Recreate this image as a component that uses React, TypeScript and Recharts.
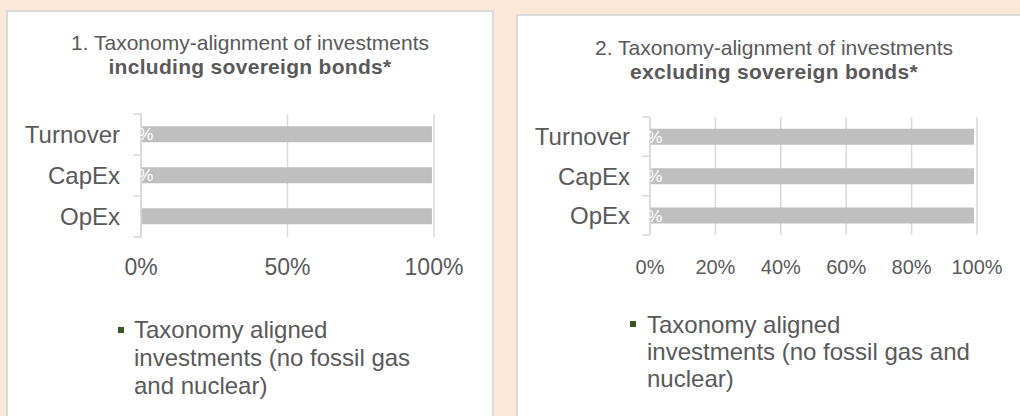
import React from 'react';
import {
  BarChart,
  Bar,
  XAxis,
  YAxis,
  CartesianGrid,
  LabelList
} from 'recharts';

// categories and values
const categories = ['Turnover', 'CapEx', 'OpEx'];

const inclAligned = [0, 0, 0];
const inclOther = [99.3, 99.3, 99.3];
const inclLabels = ['0%', '0%', ''];

const exclAligned = [0, 0, 0];
const exclOther = [99.1, 99.1, 99.1];
const exclLabels = ['0%', '0%', '0%'];

const inclTicks = [0, 50, 100];
const exclTicks = [0, 20, 40, 60, 80, 100];

const seriesName = 'Taxonomy aligned investments (no fossil gas and nuclear)';

const GREEN = '#375623';
const GREY_BAR = '#BFBFBF';
const GRID = '#D9D9D9';
const TEXT = '#595959';
const FONT = '"Liberation Sans", Arial, sans-serif';

const buildRows = (aligned: number[], other: number[], labels: string[]) =>
  categories.map((name, i) => ({
    name,
    aligned: aligned[i],
    other: other[i],
    label: labels[i]
  }));

// y axis label with Excel-like tick marks sitting between the categories
const CategoryTick = (props: any) => {
  const { x, y, payload, index, visibleTicksCount, band, gap } = props;
  const axisX = x + gap;
  const count = visibleTicksCount || categories.length;
  return (
    <g>
      <line x1={axisX - 8} x2={axisX} y1={y - band / 2} y2={y - band / 2} stroke={GRID} strokeWidth={1.5} />
      {index === count - 1 && (
        <line x1={axisX - 8} x2={axisX} y1={y + band / 2} y2={y + band / 2} stroke={GRID} strokeWidth={1.5} />
      )}
      <text x={x} y={y} dy="0.36em" textAnchor="end" fill={TEXT} fontSize={24} fontFamily={FONT}>
        {payload.value}
      </text>
    </g>
  );
};

// the aligned share is ~0 so its label sits centred on the start of the stack
const AlignedLabel = (props: any) => {
  const { x, y, height, value } = props;
  if (!value) return null;
  return (
    <text
      x={x}
      y={y + height / 2}
      dy="0.36em"
      textAnchor="middle"
      fill="#FFFFFF"
      fontSize={17}
      fontFamily={FONT}
    >
      {value}
    </text>
  );
};

interface PanelProps {
  left: number;
  top: number;
  width: number;
  number: string;
  boldLine: string;
  titleTop: number;
  titleWidth: number;
  rows: any[];
  ticks: number[];
  chartWidth: number;
  chartHeight: number;
  margin: { top: number; right: number; left: number; bottom: number };
  yWidth: number;
  plotHeight: number;
  tickFont: number;
  tickMargin: number;
  yGap: number;
  legend: { sqX: number; sqY: number; textX: number; textTop: number; width: number; lineHeight: number };
}

const Panel: React.FC<PanelProps> = (p) => {
  const band = p.plotHeight / categories.length;
  return (
    <div
      style={{
        position: 'absolute',
        left: p.left,
        top: p.top,
        width: p.width,
        height: 430,
        background: '#FFFFFF',
        boxShadow: `inset 0 0 0 2px ${GRID}`,
        overflow: 'hidden'
      }}
    >
      <div
        style={{
          position: 'absolute',
          left: 0,
          top: p.titleTop,
          width: p.titleWidth,
          textAlign: 'center',
          fontFamily: FONT,
          fontSize: 21,
          lineHeight: '24px',
          color: TEXT
        }}
      >
        <div>{p.number}. Taxonomy-alignment of investments</div>
        <div style={{ fontWeight: 'bold', letterSpacing: 0.3 }}>{p.boldLine}</div>
      </div>

      <div style={{ position: 'absolute', left: 0, top: 0 }}>
        <BarChart
          width={p.chartWidth}
          height={p.chartHeight}
          data={p.rows}
          layout="vertical"
          margin={p.margin}
          barCategoryGap="30%"
        >
          <CartesianGrid horizontal={false} stroke={GRID} strokeWidth={1.5} />
          <XAxis
            type="number"
            domain={[0, 100]}
            ticks={p.ticks}
            tickFormatter={(v: number) => `${v}%`}
            axisLine={false}
            tickLine={false}
            tickMargin={p.tickMargin}
            height={60}
            tick={{ fill: TEXT, fontSize: p.tickFont, fontFamily: FONT }}
          />
          <Bar dataKey="aligned" stackId="a" fill={GREEN} name={seriesName} isAnimationActive={false} />
          <Bar dataKey="other" stackId="a" fill={GREY_BAR} legendType="none" isAnimationActive={false}>
            <LabelList dataKey="label" content={AlignedLabel} />
          </Bar>
          <YAxis
            type="category"
            dataKey="name"
            width={p.yWidth}
            axisLine={{ stroke: GRID, strokeWidth: 1.5 }}
            tickLine={false}
            tickSize={8}
            tickMargin={p.yGap - 8}
            interval={0}
            tick={(tp: any) => <CategoryTick {...tp} band={band} gap={p.yGap} />}
          />
        </BarChart>
      </div>

      <div
        style={{
          position: 'absolute',
          left: p.legend.sqX,
          top: p.legend.sqY,
          width: 6,
          height: 6,
          background: GREEN
        }}
      />
      <div
        style={{
          position: 'absolute',
          left: p.legend.textX,
          top: p.legend.textTop,
          width: p.legend.width,
          fontFamily: FONT,
          fontSize: 24,
          lineHeight: `${p.legend.lineHeight}px`,
          color: TEXT
        }}
      >
        {seriesName}
      </div>
    </div>
  );
};

const App: React.FC = () => {
  return (
    <div
      style={{
        position: 'absolute',
        left: 0,
        top: 0,
        width: 1020,
        height: 416,
        background: '#FBE8D6',
        overflow: 'hidden'
      }}
    >
      <Panel
        left={6}
        top={10}
        width={488}
        number="1"
        boldLine="including sovereign bonds*"
        titleTop={21}
        titleWidth={488}
        rows={buildRows(inclAligned, inclOther, inclLabels)}
        ticks={inclTicks}
        chartWidth={488}
        chartHeight={287}
        margin={{ top: 104, right: 60, left: 0, bottom: 0 }}
        yWidth={135}
        plotHeight={123}
        tickFont={23}
        tickMargin={16}
        yGap={21}
        legend={{ sqX: 112, sqY: 317, textX: 128, textTop: 306, width: 300, lineHeight: 28 }}
      />
      <Panel
        left={516}
        top={14}
        width={530}
        number="2"
        boldLine="excluding sovereign bonds*"
        titleTop={22}
        titleWidth={516}
        rows={buildRows(exclAligned, exclOther, exclLabels)}
        ticks={exclTicks}
        chartWidth={530}
        chartHeight={281}
        margin={{ top: 103, right: 69, left: 0, bottom: 0 }}
        yWidth={134}
        plotHeight={118}
        tickFont={20}
        tickMargin={19}
        yGap={20}
        legend={{ sqX: 114, sqY: 307, textX: 131, textTop: 297, width: 327, lineHeight: 27 }}
      />
    </div>
  );
};

export default App;
